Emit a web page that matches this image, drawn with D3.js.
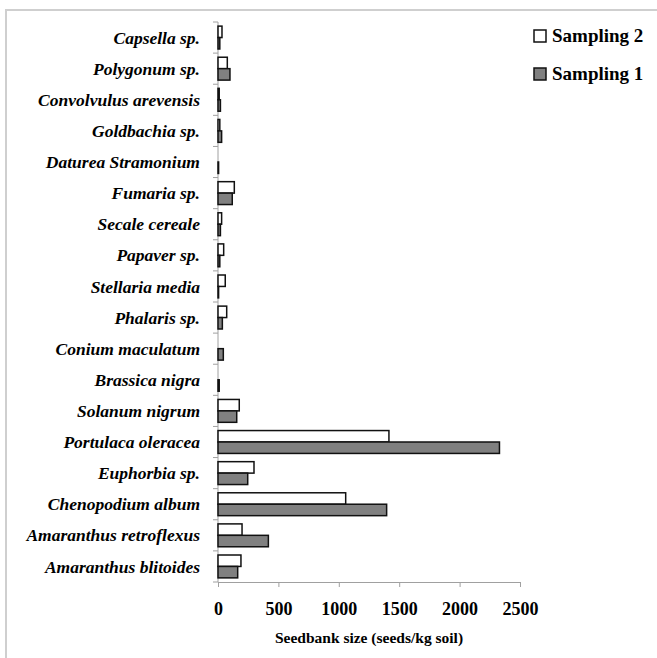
<!doctype html>
<html lang="en">
<head>
<meta charset="utf-8">
<title>Seedbank size</title>
<script src="https://d3js.org/d3.v7.min.js"></script>
<style>
  body { margin: 0; background: #fff; }
  svg { display: block; }
</style>
</head>
<body>
<div id="chart"></div>
<script>
// species, top to bottom
const species = [
  "Capsella sp.", "Polygonum sp.", "Convolvulus arevensis", "Goldbachia sp.",
  "Daturea Stramonium", "Fumaria sp.", "Secale cereale", "Papaver sp.",
  "Stellaria media", "Phalaris sp.", "Conium maculatum", "Brassica nigra",
  "Solanum nigrum", "Portulaca oleracea", "Euphorbia sp.", "Chenopodium album",
  "Amaranthus retroflexus", "Amaranthus blitoides"
];
const sampling2 = [33, 77, 10, 15, 0, 135, 30, 47, 60, 72, 0, 0, 176, 1415, 298, 1057, 199, 190];
const sampling1 = [15, 99, 20, 30, 5, 118, 20, 15, 5, 36, 44, 10, 155, 2330, 246, 1396, 417, 163];
const xTicks = [0, 500, 1000, 1500, 2000, 2500];
const seriesNames = ["Sampling 2", "Sampling 1"];
const seriesFill = ["#ffffff", "#808080"];

const width = 657, height = 658;
const margin = {top: 22, right: 137, bottom: 76, left: 218};

const svg = d3.select("#chart").append("svg")
    .attr("width", width)
    .attr("height", height);

// frame
svg.append("path")
    .attr("d", `M6,${height} V10 H${width}`)
    .attr("fill", "none")
    .attr("stroke", "#cfcfcf")
    .attr("stroke-width", 2);

const x = d3.scaleLinear([0, 2500], [margin.left, width - margin.right]);
const y = d3.scaleBand(species, [margin.top, height - margin.bottom]).paddingInner(0).paddingOuter(0);
const inner = d3.scaleBand([0, 1], [0, y.bandwidth()]).paddingInner(0).paddingOuter(0.36);

const serif = "'Liberation Serif', 'Times New Roman', serif";

// y axis: line and ticks at band edges
const yAx = svg.append("g").attr("stroke", "#a0a0a0");
yAx.append("line")
    .attr("x1", x(0)).attr("x2", x(0))
    .attr("y1", y.range()[0]).attr("y2", y.range()[1]);
yAx.selectAll("line.tk")
  .data(d3.range(species.length + 1))
  .join("line")
    .attr("class", "tk")
    .attr("x1", x(0) - 5).attr("x2", x(0))
    .attr("y1", i => y.range()[0] + i * y.step())
    .attr("y2", i => y.range()[0] + i * y.step());

// x axis
svg.append("g")
    .attr("transform", `translate(0,${y.range()[1]})`)
    .call(d3.axisBottom(x).tickValues(xTicks).tickFormat(d3.format("d"))
        .tickSize(5).tickPadding(15).tickSizeOuter(0))
    .call(g => g.select(".domain").attr("stroke", "#a0a0a0"))
    .call(g => g.selectAll(".tick line").attr("stroke", "#a0a0a0"))
    .call(g => g.selectAll(".tick text")
        .attr("font-family", serif)
        .attr("font-weight", "bold")
        .attr("font-size", 18)
        .attr("fill", "#000"));

svg.append("text")
    .attr("x", 369)
    .attr("y", 643)
    .attr("text-anchor", "middle")
    .attr("font-family", serif)
    .attr("font-weight", "bold")
    .attr("font-size", 15.5)
    .attr("fill", "#000")
    .text("Seedbank size (seeds/kg soil)");

// labels
svg.append("g")
  .selectAll("text")
  .data(species)
  .join("text")
    .attr("x", 200)
    .attr("y", d => y(d) + y.bandwidth() / 2)
    .attr("dy", "0.35em")
    .attr("text-anchor", "end")
    .attr("font-family", serif)
    .attr("font-weight", "bold")
    .attr("font-style", "italic")
    .attr("font-size", 17.5)
    .attr("fill", "#000")
    .text(d => d);

// bars
[sampling2, sampling1].forEach((vals, s) => {
  svg.append("g")
    .selectAll("rect")
    .data(species.map((d, i) => ({name: d, v: vals[i]})).filter(d => d.v > 0))
    .join("rect")
      .attr("x", x(0))
      .attr("y", d => y(d.name) + inner(s))
      .attr("width", d => x(d.v) - x(0))
      .attr("height", inner.bandwidth())
      .attr("fill", seriesFill[s])
      .attr("stroke", "#111")
      .attr("stroke-width", 1.5);
});

// legend
const leg = svg.append("g");
seriesNames.forEach((name, i) => {
  const ly = 30 + i * 38;
  leg.append("rect")
      .attr("x", 534).attr("y", ly)
      .attr("width", 12).attr("height", 12)
      .attr("fill", seriesFill[i])
      .attr("stroke", "#111")
      .attr("stroke-width", 1.5);
  leg.append("text")
      .attr("x", 552).attr("y", ly + 12)
      .attr("font-family", serif)
      .attr("font-weight", "bold")
      .attr("font-size", 19)
      .attr("fill", "#000")
      .text(name);
});
</script>
</body>
</html>
